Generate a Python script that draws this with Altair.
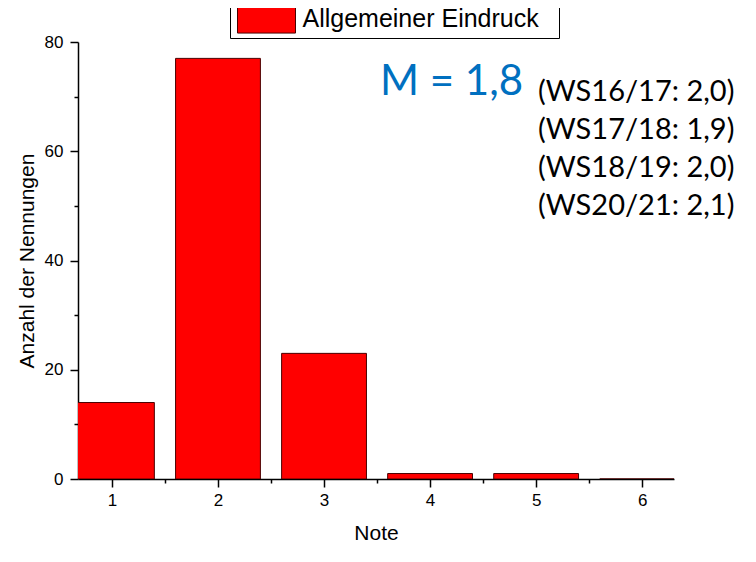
import altair as alt
import pandas as pd

# ---- data ----
notes = [1, 2, 3, 4, 5, 6]
counts = [14, 77, 23, 1, 1, 0]
series_name = "Allgemeiner Eindruck"
mean_label = "M = 1,8"
previous_labels = ["(WS16/17: 2,0)", "(WS17/18: 1,9)", "(WS18/19: 2,0)", "(WS20/21: 2,1)"]
x_major = [1, 2, 3, 4, 5, 6]
x_minor = [1.5, 2.5, 3.5, 4.5, 5.5]
y_major = [0, 20, 40, 60, 80]
y_minor = [10, 30, 50, 70]

df = pd.DataFrame({"note": notes, "count": counts, "series": [series_name] * len(notes)})

W, H = 596, 437
xscale = alt.Scale(domain=[0.68, 6.3], nice=False, zero=False)
yscale = alt.Scale(domain=[0, 80], nice=False)

base = alt.Chart(df)

bars = base.transform_calculate(
    lo="datum.note - 0.4", hi="datum.note + 0.4"
).mark_bar(clip=True, stroke="#4a0000", strokeWidth=1).encode(
    x=alt.X("lo:Q", scale=xscale,
            axis=alt.Axis(values=x_major, orient="bottom", title="Note", tickSize=8,
                          labelPadding=5, titlePadding=14, format="d")),
    x2="hi:Q",
    y=alt.Y("count:Q", scale=yscale,
            axis=alt.Axis(values=y_major, orient="left", title="Anzahl der Nennungen",
                          tickSize=8, labelPadding=7, titlePadding=7, format="d")),
    y2=alt.datum(0),
    color=alt.Color("series:N",
                    scale=alt.Scale(domain=[series_name], range=["#ff0000"]),
                    legend=alt.Legend(orient="none", legendX=152, legendY=-40, title=None,
                                      symbolType="M-2,-0.97H2V0.97H-2Z", symbolSize=841,
                                      symbolOffset=19.5, labelOffset=21,
                                      symbolStrokeColor="#4a0000", symbolStrokeWidth=1,
                                      symbolOpacity=1, labelLimit=500,
                                      labelFont="Liberation Sans", labelFontSize=25,
                                      labelColor="black", padding=2,
                                      strokeColor="black", fillColor="white",
                                      labelExpr="datum.label + '\u2800'")),
)

minor_axes = base.mark_point(opacity=0).encode(
    x=alt.X("note:Q", scale=xscale,
            axis=alt.Axis(values=x_minor, orient="bottom", labels=False, domain=False,
                          tickSize=4, title=None)),
    y=alt.Y("count:Q", scale=yscale,
            axis=alt.Axis(values=y_minor, orient="left", labels=False, domain=False,
                          tickSize=4, title=None)),
)

mean_text = alt.Chart(pd.DataFrame({"t": [mean_label]})).mark_text(
    align="left", baseline="alphabetic", font="Lato", fontSize=42, color="#0070c0"
).encode(text="t:N", x=alt.value(302), y=alt.value(53))

prev_text = alt.Chart(pd.DataFrame({"t": [previous_labels]})).mark_text(
    align="left", baseline="alphabetic", font="Lato", fontSize=29, color="black",
    lineHeight=38
).encode(text=alt.Text("t"), x=alt.value(460), y=alt.value(59))

chart = alt.layer(bars, minor_axes, mean_text, prev_text).resolve_axis(
    x="independent", y="independent"
).properties(
    width=W, height=H,
    autosize=alt.AutoSizeParams(type="none"),
    padding={"left": 70, "top": 34, "right": 70, "bottom": 75},
).configure_view(stroke=None).configure_axis(
    grid=False, domainColor="black", tickColor="black", domainWidth=1.5, tickWidth=1.5,
    labelFont="Liberation Sans", labelFontSize=17, labelColor="black",
    titleFont="Liberation Sans", titleFontSize=21, titleColor="black", titleFontWeight="normal",
)

chart.save("out.html", embed_options={"renderer": "svg", "actions": False})
